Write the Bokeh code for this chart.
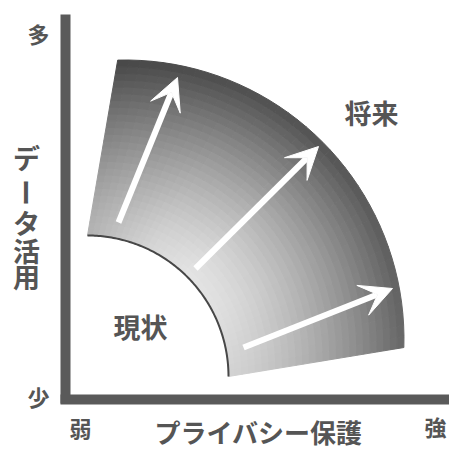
import numpy as np
from bokeh.plotting import figure
from bokeh.models import Range1d, Arrow, VeeHead, ColumnDataSource
from bokeh.core.properties import value
from bokeh.embed import file_html
from bokeh.resources import INLINE

# ---------------- data ----------------
y_axis_labels = ["多", "少"]          # top, bottom of the vertical axis
x_axis_labels = ["弱", "強"]          # left, right of the horizontal axis
x_title = "プライバシー保護"
y_title_chars = ["デ", "ー", "タ", "活", "用"]
region_labels = ["現状", "将来"]
# arrows: start -> end (diagram units, origin at the axes corner)
arrow_x0 = [53, 130, 178]
arrow_y0 = [177, 131, 52]
arrow_x1 = [112, 253, 327]
arrow_y1 = [322, 253, 111]

# ---------------- layout constants ----------------
FONT = value("Noto Sans CJK JP")
TXT = "#555555"
AX = "#5a5a5a"

p = figure(width=449, height=449, output_backend="svg", toolbar_location=None,
           x_range=Range1d(-65, 384), y_range=Range1d(-50, 399),
           x_axis_location=None, y_axis_location=None, min_border=0,
           outline_line_color=None, background_fill_color="white")
p.grid.visible = False

# ---------------- shaded band (current -> future) ----------------
ic, ir = (22.0, 23.0), 141.0                    # inner arc
oc, orad = (59.5, 60.5), 279.0                  # outer arc
th_i0, th_i1 = np.radians(90.0), np.radians(0.0)
th_o0, th_o1 = np.radians(91.5), np.radians(-1.75)

def inner(t):
    th = th_i0 + (th_i1 - th_i0) * t
    return ic[0] + ir * np.cos(th), ic[1] + ir * np.sin(th)

def outer(t):
    th = th_o0 + (th_o1 - th_o0) * t
    return oc[0] + orad * np.cos(th), oc[1] + orad * np.sin(th)

def pt(s, t):
    xi, yi = inner(t)
    xo, yo = outer(t)
    return xi + (xo - xi) * s, yi + (yo - yi) * s

tk = [0, 0.3, 0.5, 0.7, 1.0]
Lk = [178, 215, 228, 224, 210]
Dk = [70, 78, 82, 90, 102]

NS, NT = 26, 40
xs, ys, cols = [], [], []
for a in range(NS):
    s0, s1 = a / NS, (a + 1) / NS
    for b in range(NT):
        t0, t1 = b / NT, (b + 1) / NT
        c = [pt(s0, t0), pt(s1, t0), pt(s1, t1), pt(s0, t1)]
        xs.append([q[0] for q in c])
        ys.append([q[1] for q in c])
        sm, tm = (s0 + s1) / 2, (t0 + t1) / 2
        L = np.interp(tm, tk, Lk)
        D = np.interp(tm, tk, Dk)
        g = int(round(L + (D - L) * sm ** 1.45))
        cols.append("#%02x%02x%02x" % (g, g, g))

p.patches(xs, ys, fill_color=cols, line_color=cols, line_width=1)

# inner arc outline
tt = np.linspace(0, 1, 120)
ix, iy = inner(tt)
p.line(ix, iy, line_color="#474747", line_width=2)

# ---------------- arrows ----------------
asrc = ColumnDataSource(dict(x0=arrow_x0, y0=arrow_y0, x1=arrow_x1, y1=arrow_y1))
p.add_layout(Arrow(source=asrc, x_start="x0", y_start="y0", x_end="x1", y_end="y1",
                   line_color="white", line_width=6,
                   end=VeeHead(size=32, fill_color="white", line_color="white", line_width=1)))

# ---------------- axes lines ----------------
p.segment(x0=[0, -5], y0=[-4, 0], x1=[0, 390], y1=[385, 0],
          line_color=AX, line_width=10)

# ---------------- texts ----------------
def txt(x, y, t, size, angle=0.0):
    p.text(x=x, y=y, text=t, text_font=FONT, text_font_size=size, text_font_style="bold",
           text_color=TXT, text_align="center", text_baseline="middle", angle=angle)

txt([-27, -27], [367, 4], y_axis_labels, "22px")
txt([15, 370], [-27, -26], x_axis_labels, "22px")
txt([193], [-32], [x_title], "26px")

yc = [242, 207, 177, 149, 123]
for ch, yy in zip(y_title_chars, yc):
    if ch == "ー":
        txt([-39], [yy], [ch], "27px", angle=-np.pi / 2)
    else:
        txt([-39], [yy], [ch], "27px")

txt([75, 306], [73, 287], region_labels, "27px")

open("out.html", "w").write(file_html(p, INLINE))
